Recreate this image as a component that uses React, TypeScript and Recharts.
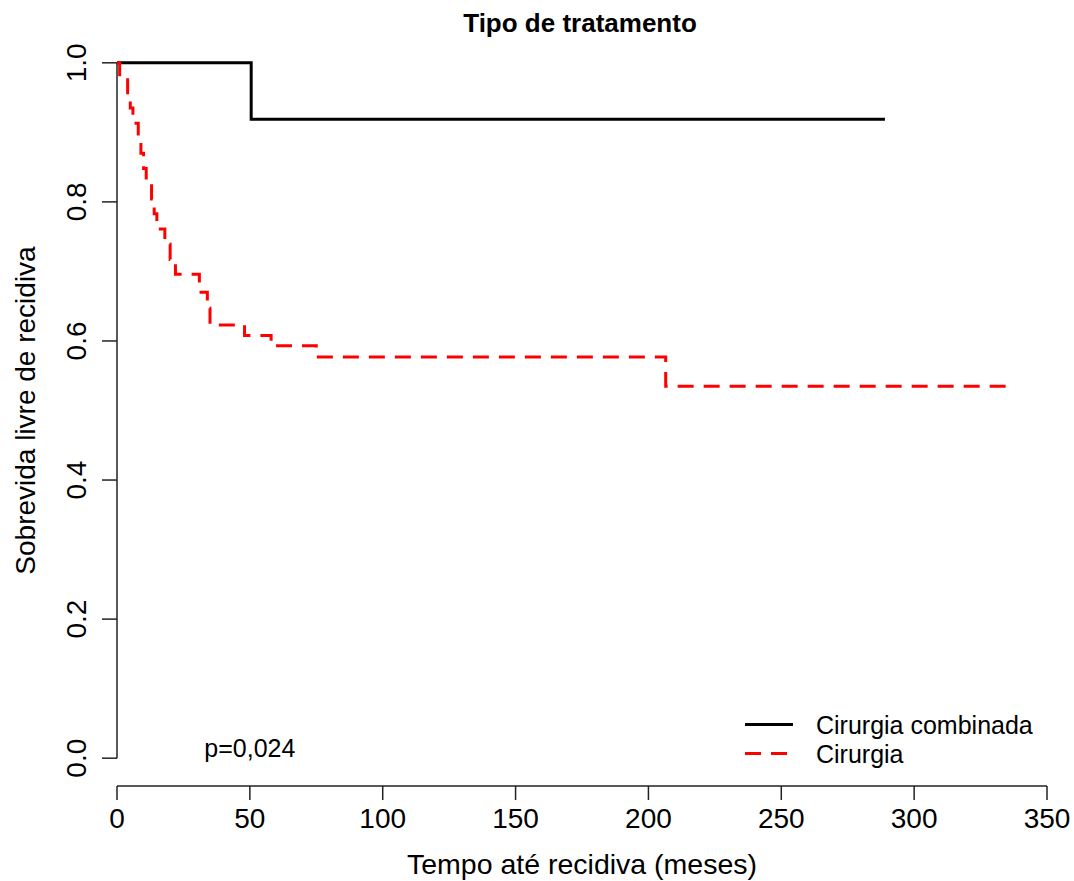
import React from 'react';
import { LineChart, Line, XAxis, YAxis, ReferenceLine, ReferenceDot, Legend } from 'recharts';

const FONT = '"Liberation Sans", Arial, sans-serif';

const xTicks = [0, 50, 100, 150, 200, 250, 300, 350];
const yTicks = [0, 0.2, 0.4, 0.6, 0.8, 1.0];
const legendOrder = ['Cirurgia combinada', 'Cirurgia'];

// Cirurgia combinada (KM steps)
const combinedTimes = [0, 50.5, 289];
const combinedSurv = [1, 0.919, 0.919];

// Cirurgia (KM steps)
const surgeryTimes = [0, 1, 4, 5, 6, 8, 9, 10, 11, 13, 14, 15, 18, 20, 22, 31, 34, 35, 48, 58, 75, 206.5, 337];
const surgerySurv = [1, 0.978, 0.957, 0.935, 0.913, 0.891, 0.87, 0.848, 0.826, 0.804, 0.783, 0.761, 0.739, 0.717, 0.696, 0.67, 0.647, 0.623, 0.608, 0.593, 0.577, 0.535, 0.535];

const combinedData = combinedTimes.map((t, i) => ({ t, s: combinedSurv[i] }));
const surgeryData = surgeryTimes.map((t, i) => ({ t, s: surgerySurv[i] }));

const XTick = (props: any) => {
  const { x, y, payload } = props;
  return (
    <text x={x} y={y} dy={26} textAnchor="middle" fontSize={28} fontFamily={FONT} fill="#000">
      {payload.value}
    </text>
  );
};

const YTick = (props: any) => {
  const { x, y, payload } = props;
  return (
    <text x={x} y={y} transform={`rotate(-90, ${x}, ${y})`} textAnchor="middle" fontSize={28} fontFamily={FONT} fill="#000">
      {payload.value.toFixed(1)}
    </text>
  );
};

const XLabel = (props: any) => {
  const vb = props.viewBox;
  return (
    <text x={vb.x + vb.width / 2} y={vb.y + vb.height - 7} textAnchor="middle" fontSize={28.5} fontFamily={FONT} fill="#000">
      Tempo até recidiva (meses)
    </text>
  );
};

const YLabel = (props: any) => {
  const vb = props.viewBox;
  const x = vb.x + 35;
  const y = vb.y + vb.height / 2;
  return (
    <text x={x} y={y} transform={`rotate(-90, ${x}, ${y})`} textAnchor="middle" fontSize={28} fontFamily={FONT} fill="#000">
      Sobrevida livre de recidiva
    </text>
  );
};

const LegendBox = (props: any) => {
  const items = [...(props.payload || [])].sort(
    (a: any, b: any) => legendOrder.indexOf(a.value) - legendOrder.indexOf(b.value)
  );
  return (
    <div>
      {items.map((it: any) => (
        <svg key={it.value} width={320} height={29} style={{ display: 'block' }}>
          <line x1={5} x2={53} y1={14.5} y2={14.5} stroke={it.color} strokeWidth={3}
            strokeDasharray={it.payload && it.payload.strokeDasharray ? it.payload.strokeDasharray : undefined} />
          <text x={76} y={24} fontSize={25} fontFamily={FONT} fill="#000">{it.value}</text>
        </svg>
      ))}
    </div>
  );
};

export default function App() {
  return (
    <div style={{ position: 'absolute', left: 0, top: 0, width: 1074, height: 881, background: '#fff', fontFamily: FONT }}>
      <div style={{ position: 'absolute', left: 0, top: 11, width: 1160, textAlign: 'center', fontSize: 26, lineHeight: '25px', fontWeight: 'bold', color: '#000' }}>
        Tipo de tratamento
      </div>
      <LineChart width={1074} height={881} margin={{ top: 35, right: 27, bottom: 0, left: 0 }}>
        <XAxis
          type="number"
          dataKey="t"
          domain={[0, 350]}
          ticks={xTicks}
          height={95}
          tickSize={14}
          tick={<XTick />}
          axisLine={{ stroke: '#222', strokeWidth: 1.5 }}
          tickLine={{ stroke: '#222', strokeWidth: 1.5 }}
          allowDataOverflow
          label={{ content: <XLabel /> }}
        />
        <YAxis
          type="number"
          domain={[-0.04, 1.04]}
          ticks={yTicks}
          width={117}
          tickSize={15}
          tickMargin={16}
          axisLine={false}
          tickLine={{ stroke: '#222', strokeWidth: 1.5 }}
          tick={<YTick />}
          allowDataOverflow
          label={{ content: <YLabel /> }}
        />
        <ReferenceLine segment={[{ x: 0, y: 0 }, { x: 0, y: 1 }]} stroke="#222" strokeWidth={1.5} ifOverflow="visible" />
        <ReferenceDot x={50} y={0.015} r={0} fill="none" stroke="none"
          label={{ value: 'p=0,024', position: 'center', fontSize: 25, fill: '#000', fontFamily: FONT }} />
        <Line data={combinedData} dataKey="s" name="Cirurgia combinada" type="stepAfter" stroke="#000000" strokeWidth={3}
          dot={false} activeDot={false} isAnimationActive={false} />
        <Line data={surgeryData} dataKey="s" name="Cirurgia" type="stepAfter" stroke="#ff0000" strokeWidth={3}
          strokeDasharray="16 10" dot={false} activeDot={false} isAnimationActive={false} />
        <Legend layout="vertical" align="center" verticalAlign="middle" content={<LegendBox />}
          wrapperStyle={{ left: 740, top: 710, width: 320 }} />
      </LineChart>
    </div>
  );
}
